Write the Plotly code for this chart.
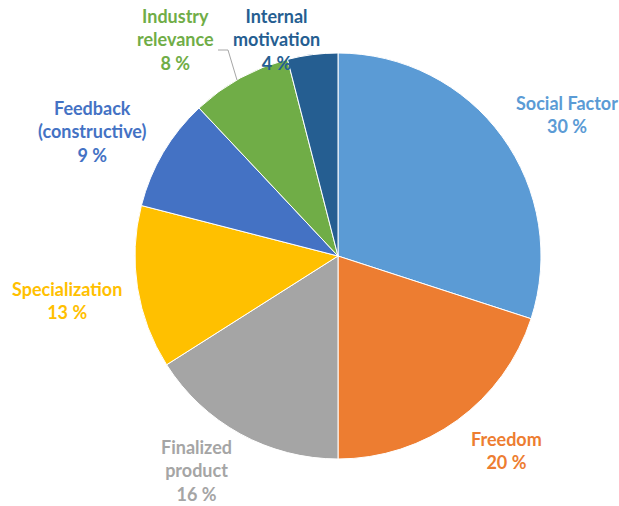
import plotly.graph_objects as go

# Survey shares by motivation factor
categories = ["Social Factor", "Freedom", "Finalized product", "Specialization",
              "Feedback (constructive)", "Industry relevance", "Internal motivation"]
shares = [30, 20, 16, 13, 9, 8, 4]
colors = ["#5B9BD5", "#ED7D31", "#A5A5A5", "#FFC000", "#4472C4", "#70AD47", "#255E91"]

# Label text broken into lines, and label anchor positions (paper coordinates)
label_lines = [["Social Factor"], ["Freedom"], ["Finalized", "product"], ["Specialization"],
               ["Feedback", "(constructive)"], ["Industry", "relevance"], ["Internal", "motivation"]]
label_pos = [(0.916, 0.773), (0.819, 0.110), (0.318, 0.070), (0.108, 0.407),
             (0.149, 0.741), (0.283, 0.921), (0.446, 0.921)]

W, H = 619, 506

fig = go.Figure(go.Pie(
    labels=categories,
    values=shares,
    marker=dict(colors=colors, line=dict(color="white", width=1)),
    sort=False,
    direction="clockwise",
    rotation=0,
    textinfo="none",
    hoverinfo="label+percent",
    showlegend=False,
    domain=dict(x=[135 / W, 541 / W], y=[47 / H, 453 / H]),
))

for name, lines, share, col, (x, y) in zip(categories, label_lines, shares, colors, label_pos):
    text = "<br>".join(lines + [f"{share} %"])
    fig.add_annotation(
        x=x, y=y, xref="paper", yref="paper",
        text=text, showarrow=False,
        font=dict(family="Lato", size=18, color=col, weight="bold"),
        align="center", xanchor="center", yanchor="middle",
    )

# Leader line for the Industry relevance label
fig.add_shape(type="path", xref="paper", yref="paper",
              path=f"M {218 / W},{1 - 50 / H} L {228 / W},{1 - 50 / H} L {237 / W},{1 - 80 / H}",
              line=dict(color="#A6A6A6", width=1))

fig.update_layout(
    width=W, height=H,
    margin=dict(l=0, r=0, t=0, b=0),
    paper_bgcolor="white", plot_bgcolor="white",
)

fig.write_html("out.html")
